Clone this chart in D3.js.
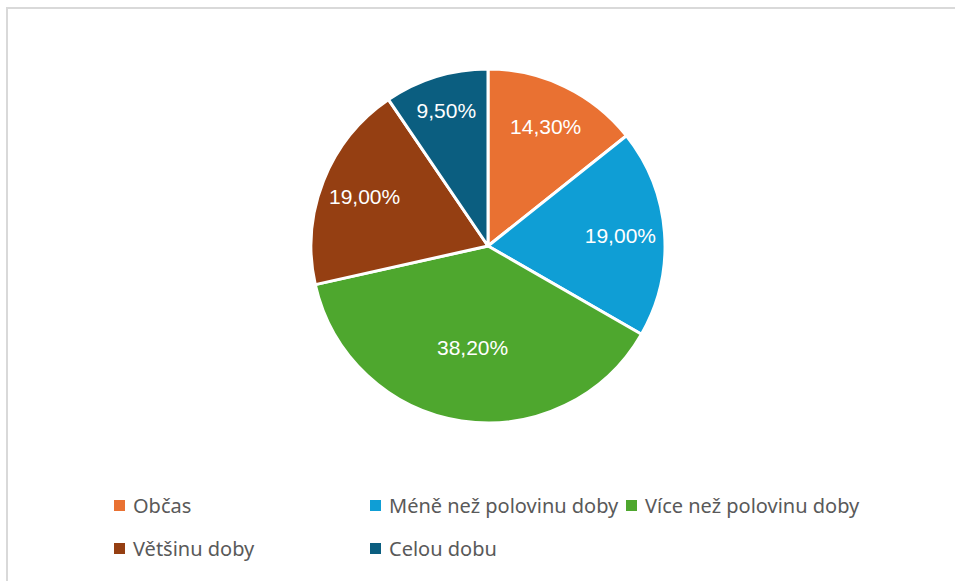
<!DOCTYPE html>
<html>
<head>
<meta charset="utf-8">
<script src="https://cdn.jsdelivr.net/npm/d3@7"></script>
<style>
	body { margin:0; background:#fff; }
	svg { display:block; }
</style>
</head>
<body>
<svg id="chart" width="955" height="581"></svg>
<script>
let _width = 955
let _height = 581

// data
let categories = ['Občas', 'Méně než polovinu doby', 'Více než polovinu doby', 'Většinu doby', 'Celou dobu']
let values = [14.3, 19.0, 38.2, 19.0, 9.5]
let labels = ['14,30%', '19,00%', '38,20%', '19,00%', '9,50%']

let cols = ['#e97132', '#0f9ed5', '#4ea72e', '#953f12', '#0b5e80']

const svg = d3.select('#chart')

// frame (runs off the right/bottom like the screenshot)
svg.append('rect')
	.attr('x', 7).attr('y', 8)
	.attr('width', 1000).attr('height', 1000)
	.attr('fill', '#fff')
	.attr('stroke', '#d9d9d9')
	.attr('stroke-width', 2)

const radius = 177
const cx = 488, cy = 246

const color = d3.scaleOrdinal().domain(categories).range(cols)

const pie = d3.pie()
	.value(d => d[1])
	.sort(null)

const data_ready = pie(categories.map((c, i) => [c, values[i], labels[i]]))

const chart = svg.append('g')
	.attr('transform', `translate(${cx},${cy})`)

const arc = d3.arc().innerRadius(0).outerRadius(radius)

chart.selectAll('.seg')
	.data(data_ready)
	.enter()
	.append('path')
	.classed('seg', true)
	.attr('d', arc)
	.attr('fill', d => color(d.data[0]))
	.attr('stroke', '#fff')
	.attr('stroke-width', 3)
	.attr('stroke-linejoin', 'round')

// labels - best fit-ish: big slice closer to centre, thin slice further out
const labelR = d => {
	const span = d.endAngle - d.startAngle
	if (span > Math.PI * 0.6) return radius * 0.58
	if (span < Math.PI * 0.25) return radius * 0.8
	return radius * 0.75
}
chart.selectAll('.lbl')
	.data(data_ready)
	.enter()
	.append('text')
	.classed('lbl', true)
	.attr('transform', d => {
		const a = (d.startAngle + d.endAngle) / 2
		const r = labelR(d)
		return `translate(${Math.sin(a) * r},${-Math.cos(a) * r})`
	})
	.attr('text-anchor', 'middle')
	.attr('dy', '0.35em')
	.attr('fill', '#fff')
	.attr('font-family', 'Liberation Sans, Arial, sans-serif')
	.attr('font-size', 21)
	.text(d => d.data[2])

/*legend*/
const legendG = svg.selectAll('.legend')
	.data(categories)
	.enter()
	.append('g')
	.classed('legend', true)
	.attr('transform', (d, i) => `translate(${114 + (i % 3) * 256},${[513, 556][Math.floor(i / 3)]})`)

legendG.append('rect')
	.attr('x', 0)
	.attr('y', -13)
	.attr('width', 11)
	.attr('height', 11)
	.attr('fill', d => color(d))

legendG.append('text')
	.attr('x', 19)
	.attr('y', 0)
	.attr('fill', '#595959')
	.attr('font-family', 'Noto Sans, sans-serif')
	.attr('font-size', 20)
	.text(d => d)
</script>
</body>
</html>
